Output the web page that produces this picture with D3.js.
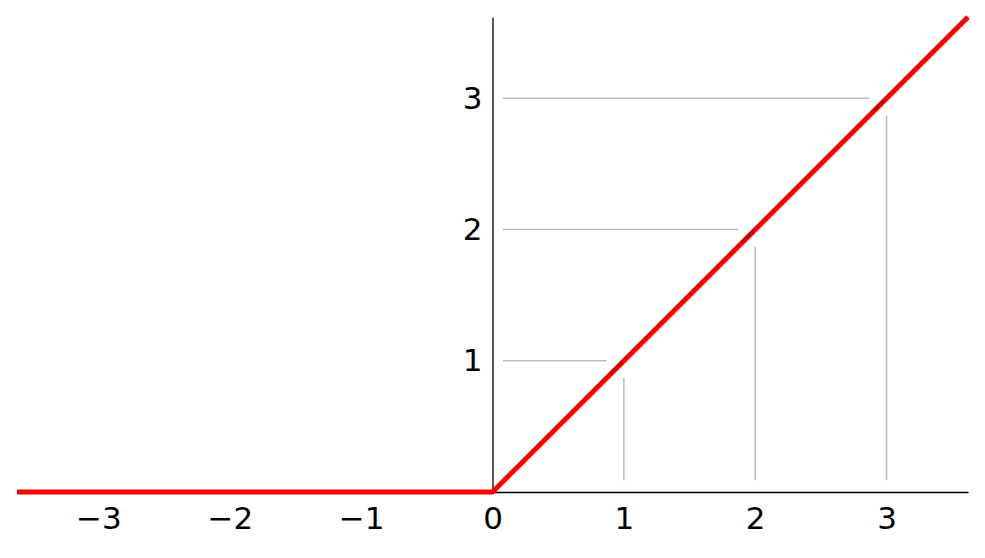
<!DOCTYPE html>
<html><head><meta charset="utf-8">
<script src="https://cdn.jsdelivr.net/npm/d3@7"></script>
<style>body{margin:0;background:#fff;} text{font-family:"DejaVu Sans",sans-serif;}</style>
</head><body>
<svg id="c" width="985" height="558"></svg>
<script>
const xDomain = [-3.62, 3.62];
const yDomain = [0, 3.62];
const xTicks = [-3, -2, -1, 0, 1, 2, 3];
const yTicks = [1, 2, 3];
const guidePoints = [1, 2, 3];
const curveX = [-3.62, 0, 3.62];
const curveY = curveX.map(v => Math.max(0, v));

const svg = d3.select("#c");
const x = d3.scaleLinear().domain(xDomain).range([17, 968]);
const y = d3.scaleLinear().domain(yDomain).range([492, 17]);

// guide lines
guidePoints.forEach(k => {
  svg.append("line").attr("x1", x(0.08)).attr("x2", x(k - 0.13))
    .attr("y1", y(k)).attr("y2", y(k)).attr("stroke", "#bbbbbb").attr("stroke-width", 1.5);
  svg.append("line").attr("x1", x(k)).attr("x2", x(k))
    .attr("y1", y(0.09)).attr("y2", y(k - 0.13)).attr("stroke", "#bbbbbb").attr("stroke-width", 1.5);
});

// axes
const xAxis = d3.axisBottom(x).tickValues(xTicks).tickSize(0).tickPadding(15)
  .tickFormat(d => d < 0 ? "\u2212" + Math.abs(d) : String(d));
const gx = svg.append("g").attr("transform", `translate(0,${y(0)})`).call(xAxis);
gx.select(".domain").attr("stroke", "#000").attr("stroke-width", 1.3);
gx.selectAll("text").attr("font-size", 31).attr("fill", "#000").attr("font-family", "DejaVu Sans");

const yAxis = d3.axisLeft(y).tickValues(yTicks).tickSize(0).tickPadding(10).tickFormat(d => String(d));
const gy = svg.append("g").attr("transform", `translate(${x(0)},0)`).call(yAxis);
gy.select(".domain").attr("stroke", "#000").attr("stroke-width", 1.3);
gy.selectAll("text").attr("font-size", 31).attr("fill", "#000").attr("font-family", "DejaVu Sans");

// curve
const line = d3.line().x((d, i) => x(curveX[i])).y((d, i) => y(curveY[i]));
svg.append("path").datum(curveX).attr("d", line).attr("fill", "none")
  .attr("stroke", "#ff0000").attr("stroke-width", 5);

// darker overlap segments near guide points
guidePoints.forEach(k => {
  svg.append("line").attr("x1", x(k - 0.1)).attr("y1", y(k - 0.1))
    .attr("x2", x(k - 0.01)).attr("y2", y(k - 0.01))
    .attr("stroke", "#b00000").attr("stroke-width", 4).attr("stroke-opacity", 0.6);
});
</script>
</body></html>
